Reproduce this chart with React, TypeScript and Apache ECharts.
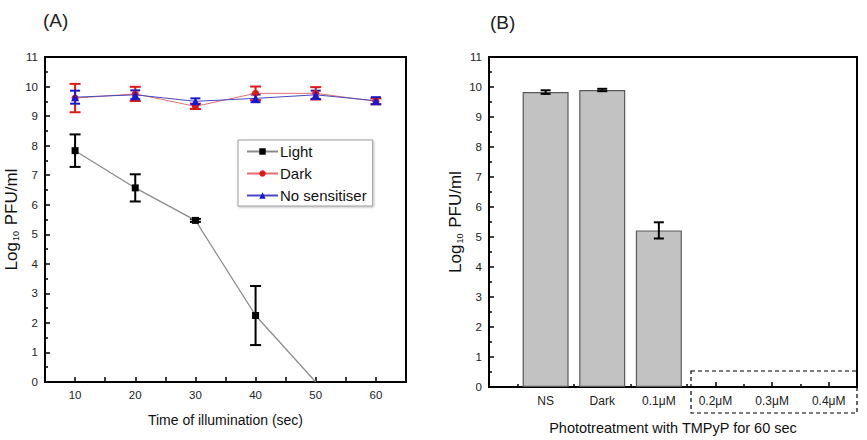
import React, { useEffect, useRef } from 'react';
import * as echarts from 'echarts';

// ---------- Panel A data ----------
const times = [10, 20, 30, 40, 50, 60];
const lightValues = [7.83, 6.57, 5.47, 2.25, 0];
const lightErrors = [0.55, 0.46, 0.05, 1.0, 0];
const darkValues = [9.61, 9.75, 9.33, 9.77, 9.77, 9.5];
const darkErrors = [0.48, 0.24, 0.09, 0.23, 0.21, 0.1];
const noSensValues = [9.64, 9.72, 9.5, 9.6, 9.72, 9.52];
const noSensErrors = [0.22, 0.15, 0.1, 0.13, 0.14, 0.12];

// ---------- Panel B data ----------
const treatments = ['NS', 'Dark', '0.1\u03bcM', '0.2\u03bcM', '0.3\u03bcM', '0.4\u03bcM'];
const treatmentValues = [9.83, 9.9, 5.22, 0, 0, 0];
const treatmentErrors = [0.06, 0.04, 0.27, 0, 0, 0];

const FONT = "'Liberation Sans', Arial, sans-serif";

function errorRender(color: string, capHalf: number, width: number) {
  return (_params: any, api: any) => {
    const x = api.value(0);
    const y = api.value(1);
    const e = api.value(2);
    if (!e) return null;
    const top = api.coord([x, y + e]);
    const bot = api.coord([x, y - e]);
    const style = { stroke: color, lineWidth: width };
    return {
      type: 'group',
      children: [
        { type: 'line', shape: { x1: top[0], y1: top[1], x2: bot[0], y2: bot[1] }, style },
        { type: 'line', shape: { x1: top[0] - capHalf, y1: top[1], x2: top[0] + capHalf, y2: top[1] }, style },
        { type: 'line', shape: { x1: bot[0] - capHalf, y1: bot[1], x2: bot[0] + capHalf, y2: bot[1] }, style },
      ],
    };
  };
}

const axisLine = { lineStyle: { color: '#000', width: 2 } };
const yName = '{a|Log}{s|10}{a| PFU/ml}';
const yNameStyle = {
  rich: {
    a: { fontSize: 17, fontFamily: FONT, color: '#111', lineHeight: 20 },
    s: { fontSize: 9, fontFamily: FONT, color: '#111', lineHeight: 10, padding: [10, 1, 0, 1] },
  },
};

export default function App() {
  const ref = useRef<HTMLDivElement>(null);
  useEffect(() => {
    if (!ref.current) return;
    const chart = echarts.init(ref.current, undefined, { renderer: 'svg' });
    const option: any = {
      animation: false,
      backgroundColor: '#fff',
      textStyle: { fontFamily: FONT },
      graphic: [
        { type: 'text', left: 43, top: 11, style: { text: '(A)', fontSize: 19, fontFamily: FONT, fill: '#222' } },
        { type: 'text', left: 490, top: 13, style: { text: '(B)', fontSize: 19, fontFamily: FONT, fill: '#222' } },
        {
          type: 'rect',
          shape: { x: 691, y: 371, width: 166, height: 42 },
          style: { fill: 'none', stroke: '#000', lineWidth: 1.2, lineDash: [4, 3] },
          z: 10,
        },
      ],
      legend: {
        data: ['Light', 'Dark', 'No sensitiser'],
        orient: 'vertical',
        left: 238,
        top: 140,
        itemWidth: 31,
        itemHeight: 8,
        itemGap: 7,
        padding: [4, 6, 3, 8],
        borderColor: '#9a9a9a',
        borderWidth: 1,
        backgroundColor: '#fff',
        shadowColor: 'rgba(0,0,0,0.25)',
        shadowBlur: 2,
        shadowOffsetX: 1,
        shadowOffsetY: 1,
        textStyle: { fontSize: 15, color: '#111', fontFamily: FONT, padding: [0, 0, 0, -3] },
      },
      grid: [
        { left: 45, top: 57, width: 361, height: 325, show: true, borderColor: '#000', borderWidth: 2, backgroundColor: 'transparent' },
        { left: 489, top: 57, width: 368, height: 330, show: true, borderColor: '#000', borderWidth: 2, backgroundColor: 'transparent' },
      ],
      xAxis: [
        {
          type: 'value', gridIndex: 0, min: 5, max: 65, interval: 5,
          axisLine,
          axisTick: { inside: true, length: 5, lineStyle: { color: '#000', width: 1.5 } },
          splitLine: { show: false },
          axisLabel: {
            margin: 7, fontSize: 11.5, color: '#222', fontFamily: FONT,
            formatter: (v: number) => (v % 10 === 0 && v >= 10 && v <= 60 ? String(v) : ''),
          },
          name: 'Time of illumination (sec)', nameLocation: 'middle', nameGap: 31,
          nameTextStyle: { fontSize: 14, color: '#111', fontFamily: FONT },
        },
        {
          type: 'value', gridIndex: 1, min: 0, max: 6.5, interval: 1,
          axisLine,
          axisTick: { inside: true, length: 5, lineStyle: { color: '#000', width: 1.5 } },
          minorTick: { show: true, splitNumber: 2, length: 3, lineStyle: { color: '#000', width: 1.5 } },
          splitLine: { show: false },
          minorSplitLine: { show: false },
          axisLabel: {
            margin: 8, fontSize: 12, color: '#222', fontFamily: FONT,
            formatter: (v: number) => (Number.isInteger(v) && v >= 1 && v <= treatments.length ? treatments[v - 1] : ''),
          },
          name: 'Phototreatment with TMPyP for 60 sec', nameLocation: 'middle', nameGap: 33,
          nameTextStyle: { fontSize: 14.5, color: '#111', fontFamily: FONT },
        },
      ],
      yAxis: [
        {
          type: 'value', gridIndex: 0, min: 0, max: 11, interval: 1,
          axisLine,
          axisTick: { inside: true, length: 5, lineStyle: { color: '#000', width: 1.5 } },
          minorTick: { show: true, splitNumber: 2, length: 3, lineStyle: { color: '#000', width: 1.5 } },
          splitLine: { show: false },
          minorSplitLine: { show: false },
          axisLabel: { margin: 7, fontSize: 11.5, color: '#222', fontFamily: FONT },
          name: yName, nameLocation: 'middle', nameGap: 24, nameRotate: 90,
          nameTextStyle: yNameStyle,
        },
        {
          type: 'value', gridIndex: 1, min: 0, max: 11, interval: 1,
          axisLine,
          axisTick: { inside: true, length: 5, lineStyle: { color: '#000', width: 1.5 } },
          minorTick: { show: true, splitNumber: 2, length: 3, lineStyle: { color: '#000', width: 1.5 } },
          splitLine: { show: false },
          minorSplitLine: { show: false },
          axisLabel: { margin: 7, fontSize: 11.5, color: '#222', fontFamily: FONT },
          name: yName, nameLocation: 'middle', nameGap: 24, nameRotate: 90,
          nameTextStyle: yNameStyle,
        },
      ],
      series: [
        {
          name: 'Dark err', type: 'custom', xAxisIndex: 0, yAxisIndex: 0,
          renderItem: errorRender('#e01818', 5.5, 2),
          data: times.map((t, i) => [t, darkValues[i], darkErrors[i]]),
          encode: { x: 0, y: 1 }, clip: false,
        },
        {
          name: 'Dark', type: 'line', xAxisIndex: 0, yAxisIndex: 0,
          data: times.map((t, i) => [t, darkValues[i]]),
          symbol: 'circle', symbolSize: 7,
          itemStyle: { color: '#e01818' },
          lineStyle: { color: '#e07070', width: 1 },
        },
        {
          name: 'No sensitiser err', type: 'custom', xAxisIndex: 0, yAxisIndex: 0,
          renderItem: errorRender('#1818d0', 5, 2),
          data: times.map((t, i) => [t, noSensValues[i], noSensErrors[i]]),
          encode: { x: 0, y: 1 }, clip: false,
        },
        {
          name: 'No sensitiser', type: 'line', xAxisIndex: 0, yAxisIndex: 0,
          data: times.map((t, i) => [t, noSensValues[i]]),
          symbol: 'triangle', symbolSize: 8,
          itemStyle: { color: '#1818d0' },
          lineStyle: { color: '#4848c0', width: 1 },
        },
        {
          name: 'Light err', type: 'custom', xAxisIndex: 0, yAxisIndex: 0,
          renderItem: errorRender('#000', 5.5, 2),
          data: lightValues.map((v, i) => [times[i], v, lightErrors[i]]),
          encode: { x: 0, y: 1 }, clip: false,
        },
        {
          name: 'Light', type: 'line', xAxisIndex: 0, yAxisIndex: 0,
          data: lightValues.map((v, i) =>
            v === 0 ? { value: [times[i], v], symbol: 'none' } : [times[i], v]),
          symbol: 'rect', symbolSize: 7,
          itemStyle: { color: '#000' },
          lineStyle: { color: '#8a8a8a', width: 1.2 },
        },
        {
          name: 'Treatment', type: 'bar', xAxisIndex: 1, yAxisIndex: 1,
          barWidth: 46,
          data: treatments.map((_, i) =>
            treatmentValues[i] === 0
              ? { value: [i + 1, 0], itemStyle: { borderWidth: 0 } }
              : [i + 1, treatmentValues[i]]),
          itemStyle: { color: '#c2c2c2', borderColor: '#5a5a5a', borderWidth: 1.2 },
        },
        {
          name: 'Treatment err', type: 'custom', xAxisIndex: 1, yAxisIndex: 1,
          renderItem: errorRender('#000', 5, 2),
          data: treatments.map((_, i) => [i + 1, treatmentValues[i], treatmentErrors[i]]),
          encode: { x: 0, y: 1 }, clip: false, z: 5,
        },
      ],
    };
    chart.setOption(option);
    return () => chart.dispose();
  }, []);
  return (
    <div
      ref={ref}
      style={{ position: 'absolute', left: 0, top: 0, width: 867, height: 440 }}
    />
  );
}
